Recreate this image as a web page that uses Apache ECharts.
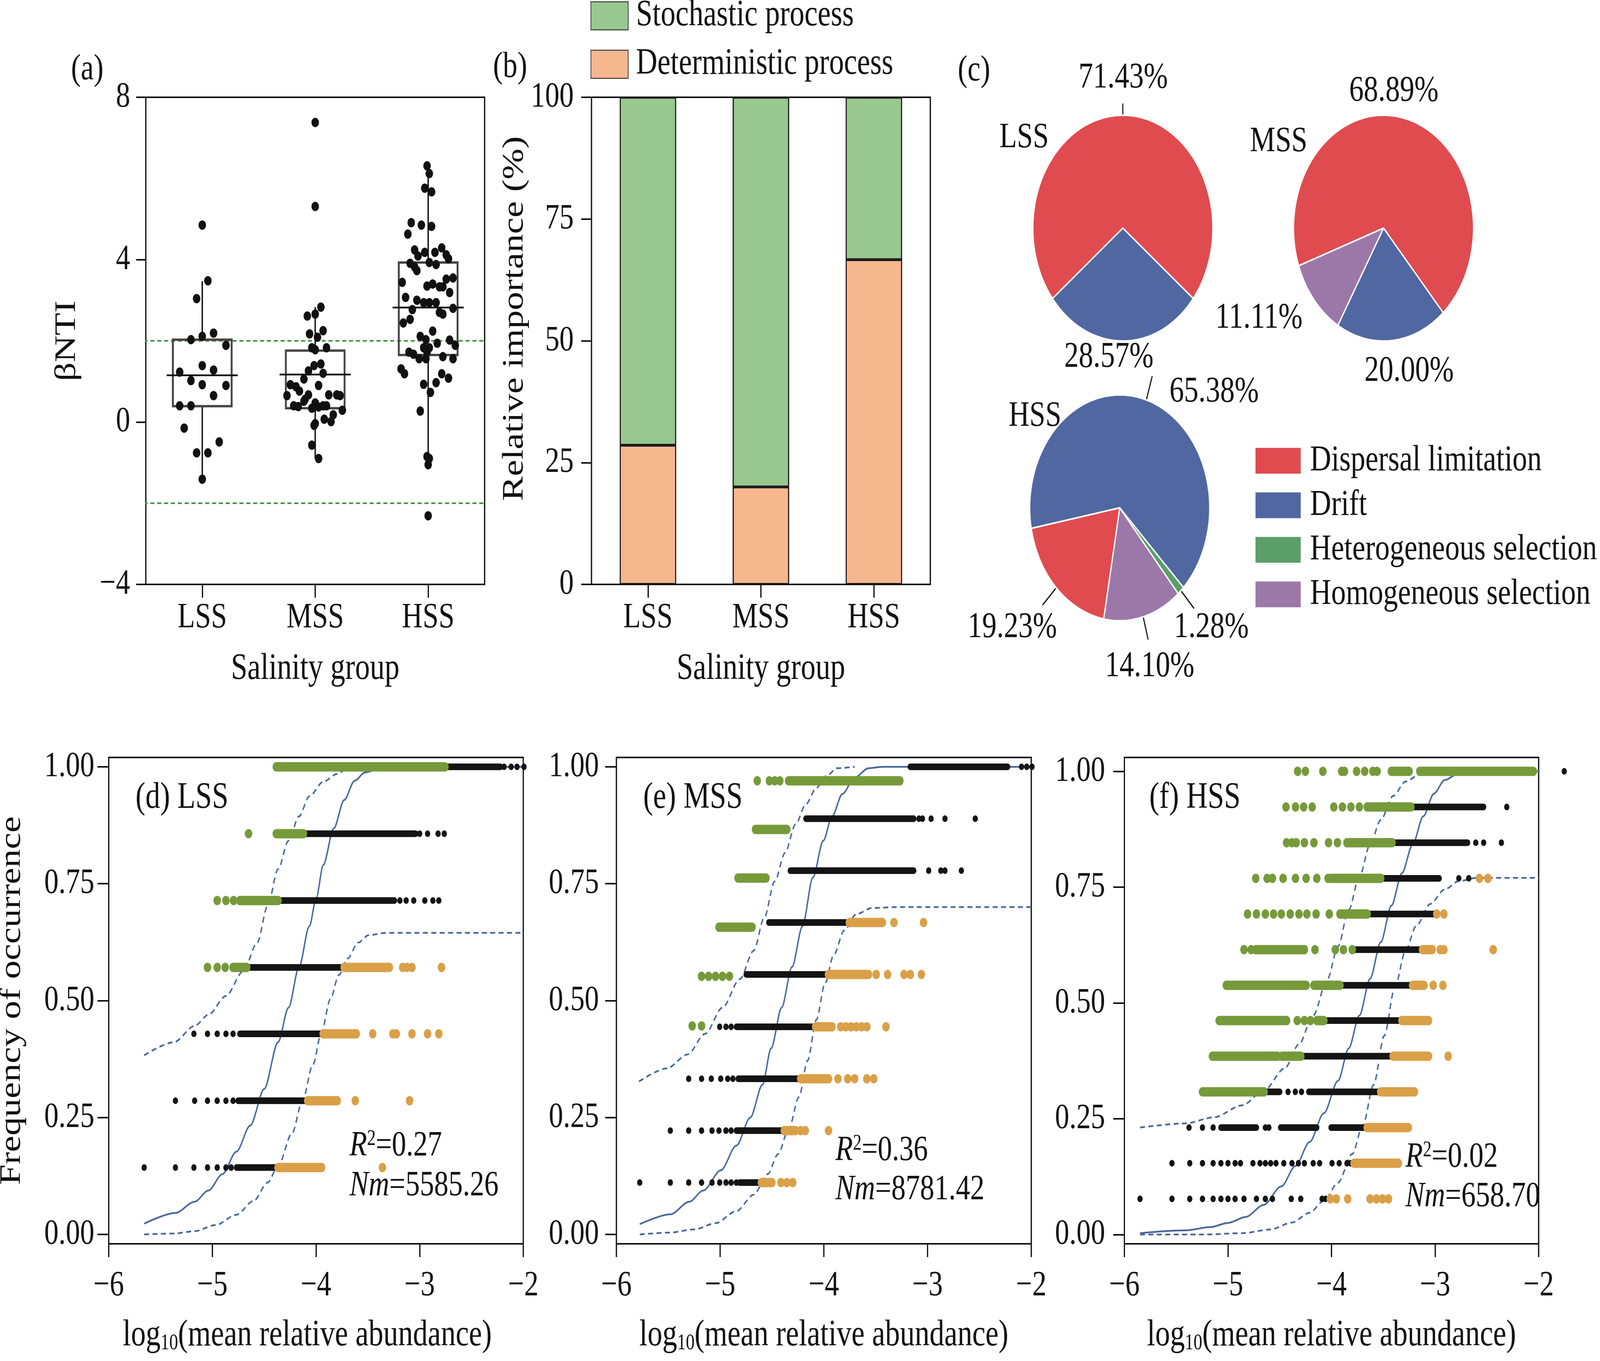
<!DOCTYPE html>
<html><head><meta charset="utf-8">
<script src="https://cdn.jsdelivr.net/npm/echarts@6.0.0/dist/echarts.min.js"></script>
<style>html,body{margin:0;padding:0;background:#fff;overflow:hidden}#wrap{width:100vw;height:100vh;overflow:hidden;position:relative}#c{width:5137px;height:3484px;transform-origin:0 0;position:absolute;left:0;top:0}</style>
</head><body><div id="wrap"><div id="c"></div></div>
<script>
// ---------------- data ----------------
const groups = ['LSS', 'MSS', 'HSS'];
// βNTI box statistics: [min whisker, Q1, median, Q3, max whisker]
const bntiStats = [[-1.41, 0.39, 1.15, 2.03, 3.47], [-0.90, 0.34, 1.17, 1.76, 2.83], [-1.06, 1.65, 2.82, 3.93, 6.31]];
const bntiThresholds = [2, -2];
// [jitter offset within group, βNTI]
const bntiLSS = [[0,4.85],[0.05,3.48],[-0.05,3.04],[0,2.11],[-0.10,2.03],[0.10,2.19],[0.21,1.89],[0,1.39],[-0.20,1.23],[0.10,1.28],[-0.10,1.02],[0,0.92],[0.21,0.90],[0.10,0.65],[-0.20,0.40],[-0.10,0.40],[-0.16,-0.15],[0.15,-0.49],[-0.05,-0.76],[0.05,-0.76],[0,-1.41]];
const bntiMSS = [[0,7.38],[0,5.31],[0.05,2.83],[0,2.66],[-0.07,2.61],[0.07,2.25],[-0.05,2.17],[0.02,2.09],[-0.03,1.83],[0.10,1.83],[0,1.78],[0.05,1.43],[-0.01,1.39],[-0.06,1.26],[0.07,1.20],[-0.10,1.06],[-0.22,0.92],[-0.17,0.87],[0.03,0.90],[-0.14,0.76],[-0.06,0.67],[-0.25,0.65],[0.12,0.67],[0.19,0.67],[0.22,0.65],[-0.19,0.40],[-0.15,0.38],[-0.10,0.51],[-0.03,0.34],[0.03,0.37],[0.07,0.40],[0.10,0.40],[0.24,0.29],[0.16,0.18],[0.08,0.07],[0.14,0.01],[0,-0.04],[-0.01,-0.08],[-0.03,-0.57],[0.03,-0.90],[0,0.47],[-0.09,0.56]];
const bntiHSS = [[-0.01,6.31],[0.01,6.12],[-0.03,5.76],[0.03,5.67],[-0.15,4.91],[-0.06,4.85],[0.03,4.82],[-0.18,4.63],[-0.12,4.24],[-0.03,4.18],[0.06,4.18],[0.12,4.29],[0.16,4.12],[-0.09,4.09],[0.18,4.02],[-0.16,3.91],[0.01,3.93],[0.07,3.88],[-0.12,3.82],[-0.10,3.73],[0.22,3.55],[-0.23,3.44],[0.16,3.52],[-0.01,3.35],[0.04,3.40],[0.10,3.33],[0.13,3.33],[0.19,3.19],[-0.20,3.07],[-0.10,3.00],[-0.04,2.94],[0.01,2.94],[0.07,2.94],[-0.14,2.77],[0.10,2.70],[0.13,2.66],[0.22,2.80],[-0.22,2.44],[-0.16,2.53],[0.04,2.24],[-0.07,2.11],[-0.02,2.03],[0.19,2.02],[0.08,1.94],[0.24,1.89],[-0.04,1.83],[0.01,1.83],[-0.17,1.72],[-0.13,1.67],[-0.01,1.72],[-0.08,1.56],[-0.02,1.56],[0.13,1.61],[0.22,1.56],[-0.24,1.31],[-0.21,1.19],[0.12,1.19],[0.18,1.08],[-0.04,0.93],[0.07,0.97],[0.02,0.73],[-0.07,0.27],[-0.01,-0.85],[0.01,-0.90],[0,-1.05],[0,-2.31]];

const deterministic = [28.57, 20.00, 66.67];
const stochastic = [71.43, 80.00, 33.33];

const pieNames = ['Dispersal limitation', 'Drift', 'Heterogeneous selection', 'Homogeneous selection'];
const pieLSS = [71.43, 28.57, 0, 0];
const pieMSS = [68.89, 20.00, 0, 11.11];
const pieHSS = [19.23, 65.38, 1.28, 14.10];

const occTicks = [0, 0.25, 0.5, 0.75, 1];
const fitR2 = [0.27, 0.36, 0.02];
const fitNm = [5585.26, 8781.42, 658.70];

// (d) LSS  segments: [x start, x end, frequency]; dots: [frequency, [x...]]
const lssAboveSeg = [[-4.383,-2.755,1.000],[-4.383,-4.121,0.857],[-4.735,-4.366,0.714],[-4.800,-4.668,0.571]];
const lssAboveDots = [[0.857,[-4.651]],[0.714,[-4.953,-4.869,-4.795]],[0.571,[-5.047,-4.953,-4.876]]];
const lssNeutralSeg = [[-2.755,-2.220,1.000],[-4.121,-3.040,0.857],[-4.366,-3.242,0.714],[-4.668,-3.728,0.571],[-4.735,-3.930,0.429],[-4.752,-4.097,0.286],[-4.768,-4.366,0.143]];
const lssNeutralDots = [[1.000,[-2.185,-2.117,-2.060,-1.993]],[0.857,[-3.000,-2.923,-2.822,-2.762]],[0.714,[-3.190,-3.130,-3.057,-2.950,-2.872,-2.815]],[0.429,[-5.178,-5.047,-4.953,-4.869,-4.800]],[0.286,[-5.356,-5.171,-5.047,-4.953,-4.869,-4.800]],[0.143,[-5.658,-5.356,-5.178,-5.047,-4.953,-4.869,-4.819]]];
const lssBelowSeg = [[-3.728,-3.292,0.571],[-3.930,-3.611,0.429],[-4.080,-3.795,0.286],[-4.366,-3.946,0.143]];
const lssBelowDots = [[0.571,[-3.164,-3.124,-3.074,-2.789]],[0.429,[-3.453,-3.258,-3.225,-3.074,-2.923,-2.815]],[0.286,[-3.621,-3.097]],[0.143,[-3.359]]];
const lssFit = [[-5.658,0.023],[-5.356,0.046],[-5.171,0.070],[-5.037,0.094],[-4.903,0.129],[-4.768,0.177],[-4.634,0.233],[-4.500,0.311],[-4.366,0.411],[-4.265,0.485],[-4.164,0.572],[-4.064,0.659],[-3.997,0.720],[-3.930,0.790],[-3.829,0.868],[-3.728,0.929],[-3.628,0.970],[-3.527,0.988],[-3.359,0.998],[-2.000,1.000]];
const lssUpper = [[-5.658,0.383],[-5.372,0.411],[-5.171,0.446],[-5.037,0.470],[-4.869,0.510],[-4.701,0.563],[-4.567,0.624],[-4.466,0.703],[-4.366,0.781],[-4.265,0.842],[-4.164,0.894],[-4.064,0.937],[-3.930,0.968],[-3.795,0.985],[-3.695,0.997],[-3.500,1.000]];
const lssLower = [[-5.658,0.000],[-5.372,0.002],[-5.171,0.007],[-4.970,0.020],[-4.768,0.042],[-4.601,0.072],[-4.466,0.111],[-4.366,0.146],[-4.232,0.216],[-4.131,0.285],[-4.030,0.363],[-3.946,0.433],[-3.862,0.503],[-3.779,0.555],[-3.695,0.590],[-3.594,0.624],[-3.493,0.640],[-3.326,0.645],[-2.000,0.645]];

// (e) MSS
const mssAboveSeg = [[-4.340,-3.267,0.970],[-4.659,-4.357,0.866],[-4.827,-4.558,0.762],[-5.011,-4.692,0.657]];
const mssAboveDots = [[0.970,[-4.642,-4.525,-4.474,-4.424]],[0.552,[-5.179,-5.111,-5.044,-4.977,-4.910]],[0.446,[-5.269,-5.179]]];
const mssNeutralSeg = [[-3.167,-2.228,1.000],[-4.173,-3.133,0.889],[-4.324,-3.133,0.778],[-4.531,-3.754,0.667],[-4.749,-3.955,0.556],[-4.843,-4.079,0.444],[-4.826,-4.240,0.333],[-4.843,-4.381,0.222],[-4.810,-4.602,0.111]];
const mssNeutralDots = [[1.000,[-2.094,-2.044,-1.993]],[0.889,[-3.083,-3.049,-2.966,-2.832,-2.540]],[0.778,[-2.989,-2.872,-2.832,-2.674]],[0.444,[-5.004,-4.944,-4.894]],[0.333,[-5.303,-5.179,-5.085,-4.994,-4.927,-4.877]],[0.222,[-5.480,-5.303,-5.179,-5.078,-5.011,-4.944,-4.894]],[0.111,[-5.775,-5.480,-5.303,-5.179,-5.078,-5.004,-4.944,-4.894,-4.843]]];
const mssBelowSeg = [[-3.754,-3.435,0.667],[-3.955,-3.569,0.556],[-4.079,-3.921,0.444],[-4.223,-3.955,0.333],[-4.381,-4.273,0.222],[-4.602,-4.501,0.111]];
const mssBelowDots = [[0.667,[-3.324,-3.039]],[0.556,[-3.495,-3.385,-3.227,-3.167,-3.060]],[0.444,[-3.837,-3.787,-3.737,-3.686,-3.636,-3.586,-3.401]],[0.333,[-3.864,-3.770,-3.703,-3.586,-3.519]],[0.222,[-4.223,-4.179,-3.955]],[0.111,[-4.414,-4.357,-4.300]]];
const mssFit = [[-5.775,0.022],[-5.480,0.043],[-5.296,0.070],[-5.162,0.094],[-4.994,0.137],[-4.843,0.190],[-4.709,0.250],[-4.592,0.320],[-4.508,0.398],[-4.407,0.485],[-4.307,0.572],[-4.206,0.659],[-4.106,0.763],[-4.005,0.842],[-3.921,0.894],[-3.821,0.942],[-3.703,0.977],[-3.569,0.997],[-3.435,1.000],[-2.000,1.000]];
const mssUpper = [[-5.782,0.327],[-5.514,0.355],[-5.313,0.385],[-5.145,0.429],[-4.977,0.485],[-4.810,0.546],[-4.676,0.607],[-4.575,0.677],[-4.474,0.755],[-4.374,0.816],[-4.273,0.877],[-4.173,0.920],[-4.072,0.955],[-3.972,0.981],[-3.871,0.997],[-3.703,1.000]];
const mssLower = [[-5.775,0.000],[-5.480,0.004],[-5.246,0.011],[-5.044,0.024],[-4.843,0.050],[-4.676,0.085],[-4.541,0.129],[-4.441,0.172],[-4.340,0.224],[-4.240,0.294],[-4.156,0.372],[-4.072,0.459],[-3.988,0.537],[-3.904,0.598],[-3.804,0.650],[-3.687,0.685],[-3.536,0.698],[-3.301,0.700],[-2.000,0.700]];

// (f) HSS
const hssAboveSeg = [[-3.422,-3.251,1.000],[-3.148,-2.051,1.000],[-3.656,-3.234,0.923],[-3.851,-3.416,0.846],[-4.005,-3.525,0.769],[-3.919,-3.656,0.692],[-4.732,-4.262,0.615],[-5.016,-4.245,0.538],[-4.170,-3.919,0.538],[-5.085,-4.434,0.462],[-4.142,-4.074,0.462],[-5.150,-4.519,0.385],[-4.480,-4.297,0.385],[-5.246,-4.650,0.308]];
const hssAboveDots = [[1.000,[-4.327,-4.252,-4.084,-3.902,-3.875,-3.758,-3.680,-3.601,-3.560]],[0.923,[-4.440,-4.348,-4.269,-4.187,-3.978,-3.895,-3.813,-3.731]],[0.846,[-4.434,-4.382,-4.341,-4.262,-4.170,-4.029,-3.943]],[0.769,[-4.732,-4.622,-4.571,-4.468,-4.348,-4.245,-4.142,-4.033]],[0.692,[-4.811,-4.725,-4.639,-4.560,-4.485,-4.399,-4.314,-4.238,-4.149,-4.022]],[0.615,[-4.845,-4.776,-4.160,-3.964,-3.885,-3.800]],[0.462,[-4.331,-4.262,-4.204]]];
const hssNeutralSeg = [[-3.234,-2.531,0.923],[-3.416,-2.686,0.846],[-3.525,-2.960,0.769],[-3.656,-3.011,0.692],[-3.782,-3.121,0.615],[-3.919,-3.217,0.538],[-4.074,-3.320,0.462],[-4.297,-3.405,0.385],[-4.650,-4.500,0.308],[-4.220,-3.525,0.308],[-5.068,-4.725,0.231],[-4.492,-4.142,0.231],[-4.005,-3.656,0.231]];
const hssNeutralDots = [[1.000,[-1.753]],[0.923,[-2.308]],[0.846,[-2.607,-2.531,-2.360]],[0.769,[-2.771,-2.675]],[0.308,[-4.420,-4.350,-4.290]],[0.231,[-5.376,-5.246,-5.143,-4.639,-4.605]],[0.154,[-5.541,-5.369,-5.246,-5.143,-5.068,-5.000,-4.931,-4.879,-4.759,-4.691,-4.639,-4.588,-4.536,-4.461,-4.382,-4.320,-4.262,-4.177,-4.115,-3.995,-3.926,-3.851,-3.817]],[0.077,[-5.849,-5.541,-5.369,-5.246,-5.143,-5.068,-5.000,-4.931,-4.845,-4.725,-4.639,-4.571,-4.389,-4.297,-4.091,-4.057]]];
const hssBelowSeg = [[-3.121,-3.028,0.615],[-3.217,-3.107,0.538],[-3.320,-3.063,0.462],[-3.405,-3.063,0.385],[-3.525,-3.200,0.308],[-3.656,-3.258,0.231],[-3.782,-3.354,0.154]];
const hssBelowDots = [[0.769,[-2.572,-2.490]],[0.692,[-2.984,-2.915]],[0.615,[-2.950,-2.915,-2.439]],[0.538,[-3.018,-2.925]],[0.385,[-2.874]],[0.077,[-4.012,-3.954,-3.844,-3.628,-3.566,-3.508,-3.450]]];
const hssFit = [[-5.849,0.003],[-5.410,0.009],[-5.171,0.016],[-5.000,0.025],[-4.828,0.038],[-4.656,0.064],[-4.485,0.104],[-4.348,0.148],[-4.211,0.200],[-4.074,0.262],[-3.937,0.332],[-3.834,0.402],[-3.731,0.473],[-3.628,0.552],[-3.525,0.631],[-3.422,0.710],[-3.320,0.780],[-3.217,0.842],[-3.114,0.903],[-3.011,0.952],[-2.908,0.981],[-2.771,0.996],[-2.668,1.000],[-1.753,1.000]];
const hssUpper = [[-5.849,0.231],[-5.410,0.240],[-5.136,0.253],[-4.862,0.279],[-4.656,0.310],[-4.451,0.359],[-4.314,0.411],[-4.177,0.473],[-4.039,0.552],[-3.937,0.622],[-3.834,0.701],[-3.731,0.772],[-3.628,0.842],[-3.525,0.895],[-3.405,0.947],[-3.285,0.978],[-3.148,0.993],[-3.011,1.000]];
const hssLower = [[-5.849,0.000],[-5.239,0.000],[-4.862,0.003],[-4.588,0.011],[-4.382,0.026],[-4.211,0.047],[-4.074,0.073],[-3.937,0.112],[-3.800,0.174],[-3.697,0.236],[-3.594,0.323],[-3.491,0.429],[-3.388,0.534],[-3.285,0.613],[-3.183,0.666],[-3.045,0.714],[-2.908,0.745],[-2.771,0.763],[-2.600,0.770],[-1.753,0.770]];

// ---------------- styles ----------------
const FONT = '"Liberation Serif", "Times New Roman", serif';
const INK = '#111111';
const TICK = 92, TITLE = 95;
const BOXC = '#4a4242';
const C_GREENBAR = '#98c890', C_PEACH = '#f5b78e';
const pieColors = ['#e04b50', '#5067a1', '#5a9e69', '#9c78a9'];
const C_ABOVE = '#769a3a', C_BELOW = '#daa048', C_NEUTRAL = '#141414', C_FIT = '#4a689a';
const minus = v => (v < 0 ? '\u2212' + Math.abs(v) : String(v));

function ax(extra) {
  const base = {
    axisLine: { show: true, onZero: false, lineStyle: { color: INK, width: 4 } },
    axisTick: { show: true, inside: false, length: 34, lineStyle: { color: INK, width: 4 } },
    axisLabel: { color: INK, fontFamily: FONT, fontSize: TICK, lineHeight: TICK },
    splitLine: { show: false },
    nameTextStyle: { color: INK, fontFamily: FONT, fontSize: TITLE, lineHeight: TITLE }
  };
  for (const k in extra) {
    if (base[k] && typeof extra[k] === 'object' && !Array.isArray(extra[k])) base[k] = Object.assign({}, base[k], extra[k]);
    else base[k] = extra[k];
  }
  return base;
}
const gridBox = { show: true, borderColor: INK, borderWidth: 4, backgroundColor: 'transparent', containLabel: false, outerBoundsMode: 'none' };

const grids = [
  Object.assign({ left: 468, top: 249, width: 1088, height: 1247 }, gridBox),
  Object.assign({ left: 1899, top: 249, width: 1088, height: 1247 }, gridBox),
  Object.assign({ left: 349, top: 1939, width: 1331, height: 1245 }, gridBox),
  Object.assign({ left: 1979, top: 1939, width: 1332, height: 1245 }, gridBox),
  Object.assign({ left: 3610, top: 1939, width: 1330, height: 1245 }, gridBox)
];

const xName = 'log{sub|10}(mean relative abundance)';
const subRich = { sub: { fontFamily: FONT, fontSize: 56, color: INK, verticalAlign: 'bottom', lineHeight: 56 } };

const xAxes = [
  ax({ gridIndex: 0, type: 'category', data: groups, boundaryGap: true, axisTick: { alignWithLabel: true },
       axisLabel: { margin: 40 }, name: 'Salinity group', nameLocation: 'middle', nameGap: 170 }),
  { gridIndex: 0, type: 'value', min: -0.5, max: 2.5, show: false },
  ax({ gridIndex: 1, type: 'category', data: groups, boundaryGap: true, axisTick: { alignWithLabel: true },
       axisLabel: { margin: 40 }, name: 'Salinity group', nameLocation: 'middle', nameGap: 170 }),
  ax({ gridIndex: 2, type: 'value', min: -6, max: -2, interval: 1, axisLabel: { margin: 62, formatter: minus },
       name: xName, nameLocation: 'middle', nameGap: 188, nameTextStyle: { rich: subRich, padding: [0, 56, 0, 0] } }),
  ax({ gridIndex: 3, type: 'value', min: -6, max: -2, interval: 1, axisLabel: { margin: 62, formatter: minus },
       name: xName, nameLocation: 'middle', nameGap: 188, nameTextStyle: { rich: subRich } }),
  ax({ gridIndex: 4, type: 'value', min: -6, max: -2, interval: 1, axisLabel: { margin: 62, formatter: minus },
       name: xName, nameLocation: 'middle', nameGap: 188, nameTextStyle: { rich: subRich } })
];
const occLabel = v => Number(v).toFixed(2);
const yAxes = [
  ax({ gridIndex: 0, type: 'value', min: -4, max: 8, interval: 4, axisTick: { length: 31 }, axisLabel: { margin: 50, formatter: minus },
       name: '\u03b2NTI', nameLocation: 'middle', nameGap: 204 }),
  ax({ gridIndex: 1, type: 'value', min: 0, max: 100, interval: 25, axisTick: { length: 33 }, axisLabel: { margin: 57 },
       name: 'Relative importance (%)', nameLocation: 'middle', nameGap: 197, nameTextStyle: { padding: [0, 0, 0, 114] } }),
  ax({ gridIndex: 2, type: 'value', min: -0.02, max: 1.02, axisTick: { length: 36, customValues: occTicks },
       axisLabel: { margin: 46, formatter: occLabel, customValues: occTicks },
       name: 'Frequency of occurrence', nameLocation: 'middle', nameGap: 262 }),
  ax({ gridIndex: 3, type: 'value', min: -0.02, max: 1.02, axisTick: { length: 36, customValues: occTicks },
       axisLabel: { margin: 56, formatter: occLabel, customValues: occTicks } }),
  ax({ gridIndex: 4, type: 'value', min: -0.02, max: 1.03, axisTick: { length: 36, customValues: occTicks },
       axisLabel: { margin: 62, formatter: occLabel, customValues: occTicks } })
];

const series = [];

// ---- (a) βNTI ----
bntiThresholds.forEach(t => series.push({
  type: 'line', xAxisIndex: 1, yAxisIndex: 0, data: [[-0.52, t], [2.5, t]], symbol: 'none', silent: true, z: 1, clip: false,
  lineStyle: { color: '#3c8c3c', width: 4, type: [13, 9] }
}));
series.push({
  type: 'custom', xAxisIndex: 1, yAxisIndex: 0, silent: true, z: 2,
  data: bntiStats.map((s, i) => [i].concat(s)),
  encode: { x: 0, y: [1, 2, 3, 4, 5] },
  renderItem: function (params, api) {
    const i = api.value(0);
    const v = [1, 2, 3, 4, 5].map(k => api.value(k));
    const unit = api.size([1, 0])[0];
    const bw = unit * 0.52, mw = unit * 0.63;
    const cx = api.coord([i, 0])[0];
    const y = val => api.coord([i, val])[1];
    return { type: 'group', children: [
      { type: 'line', shape: { x1: cx, y1: y(v[4]), x2: cx, y2: y(v[3]) }, style: { stroke: INK, lineWidth: 4.5 } },
      { type: 'line', shape: { x1: cx, y1: y(v[1]), x2: cx, y2: y(v[0]) }, style: { stroke: INK, lineWidth: 4.5 } },
      { type: 'rect', shape: { x: cx - bw / 2, y: y(v[3]), width: bw, height: y(v[1]) - y(v[3]) }, style: { fill: 'transparent', stroke: BOXC, lineWidth: 6 } },
      { type: 'line', shape: { x1: cx - mw / 2, y1: y(v[2]), x2: cx + mw / 2, y2: y(v[2]) }, style: { stroke: INK, lineWidth: 4.5 } }
    ] };
  }
});
[bntiLSS, bntiMSS, bntiHSS].forEach((pts, gi) => series.push({
  type: 'scatter', xAxisIndex: 1, yAxisIndex: 0, silent: true, z: 3, symbolSize: 24,
  itemStyle: { color: INK, opacity: 1 }, data: pts.map(p => [gi + p[0], p[1]])
}));

// ---- (b) bars ----
const barStyle = c => ({ color: c, borderColor: INK, borderWidth: 3.5 });
series.push({ type: 'bar', name: 'Deterministic process', xAxisIndex: 2, yAxisIndex: 1, stack: 'p', barWidth: '50%', silent: true,
  itemStyle: barStyle(C_PEACH), data: deterministic });
series.push({ type: 'bar', name: 'Stochastic process', xAxisIndex: 2, yAxisIndex: 1, stack: 'p', barWidth: '50%', silent: true,
  itemStyle: barStyle(C_GREENBAR), data: stochastic });

// ---- (c) pies ----
function pieSeries(values, order, center, startAngle, leaderLens, labelPos) {
  return {
    type: 'pie', center: center, radius: 289, startAngle: startAngle, clockwise: true, avoidLabelOverlap: false,
    minShowLabelAngle: 0, silent: true, emphasis: { disabled: true, scale: false },
    itemStyle: { borderColor: '#ffffff', borderWidth: 4 },
    label: { show: true, position: 'outside', color: INK, fontFamily: FONT, fontSize: 93, lineHeight: 93,
             formatter: p => Number(p.value).toFixed(2) + '%' },
    labelLine: { show: true, length: 30, length2: 0, smooth: false, lineStyle: { color: INK, width: 3.5 } },
    data: order.map((k, i) => ({
      name: pieNames[k], value: values[k], itemStyle: { color: pieColors[k] },
      labelLine: { show: leaderLens[i] > 0, length: Math.max(leaderLens[i], 1), length2: 0 }
    })),
    labelLayout: function (params) {
      const p = labelPos[params.dataIndex];
      const out = { x: p[0], y: p[1], align: 'center', verticalAlign: 'middle' };
      const pts = params.labelLinePoints;
      if (pts && leaderLens[params.dataIndex] > 0) out.labelLinePoints = [pts[0], pts[1], pts[1]];
      return out;
    }
  };
}
series.push(pieSeries(pieLSS, [0, 1], [3605, 584], 218.6, [30, 0], [[3606, 200], [3560, 915]]));
series.push(pieSeries(pieMSS, [0, 1, 3], [4442, 584], 199.5, [0, 0, 0], [[4475, 234], [4524, 951], [4042, 815]]));
series.push(pieSeries(pieHSS, [1, 2, 3, 0], [3595, 1300], 190.5, [64, 62, 60, 62], [[3898, 1004], [3889, 1607], [3691, 1707], [3250, 1607]]));

// ---- (d)-(f) neutral model panels ----
const flatDots = rows => rows.flatMap(r => r[1].map(x => [x, r[0]]));
function occPanel(ai, d) {
  const lineBase = { type: 'line', xAxisIndex: 3 + ai, yAxisIndex: 2 + ai, symbol: 'none', smooth: 0.3, smoothMonotone: 'x', clip: false, silent: true, z: 2 };
  const seg = (data, color, w, z) => ({
    type: 'custom', xAxisIndex: 3 + ai, yAxisIndex: 2 + ai, data: data, clip: false, silent: true, z: z,
    encode: { x: [0, 1], y: 2 },
    renderItem: function (params, api) {
      const a = api.coord([api.value(0), api.value(2)]);
      const b = api.coord([api.value(1), api.value(2)]);
      return { type: 'line', shape: { x1: a[0], y1: a[1], x2: b[0], y2: b[1] }, style: { stroke: color, lineWidth: w, lineCap: 'round' } };
    }
  });
  const dots = (rows, color, size, z) => ({
    type: 'scatter', xAxisIndex: 3 + ai, yAxisIndex: 2 + ai, data: flatDots(rows), symbol: 'circle', symbolSize: size,
    itemStyle: { color: color, opacity: 1 }, clip: false, silent: true, z: z
  });
  return [
    Object.assign({}, lineBase, { data: d.fit, lineStyle: { color: C_FIT, width: 4.5, type: 'solid' } }),
    Object.assign({}, lineBase, { data: d.upper, lineStyle: { color: C_FIT, width: 4.5, type: [16, 11] } }),
    Object.assign({}, lineBase, { data: d.lower, lineStyle: { color: C_FIT, width: 4.5, type: [16, 11] } }),
    seg(d.nSeg, C_NEUTRAL, 17, 3), dots(d.nDots, C_NEUTRAL, 17, 3),
    seg(d.aSeg, C_ABOVE, 24, 4), dots(d.aDots, C_ABOVE, 24, 4),
    seg(d.bSeg, C_BELOW, 24, 4), dots(d.bDots, C_BELOW, 24, 4)
  ];
}
series.push(...occPanel(0, { fit: lssFit, upper: lssUpper, lower: lssLower, nSeg: lssNeutralSeg, nDots: lssNeutralDots, aSeg: lssAboveSeg, aDots: lssAboveDots, bSeg: lssBelowSeg, bDots: lssBelowDots }));
series.push(...occPanel(1, { fit: mssFit, upper: mssUpper, lower: mssLower, nSeg: mssNeutralSeg, nDots: mssNeutralDots, aSeg: mssAboveSeg, aDots: mssAboveDots, bSeg: mssBelowSeg, bDots: mssBelowDots }));
series.push(...occPanel(2, { fit: hssFit, upper: hssUpper, lower: hssLower, nSeg: hssNeutralSeg, nDots: hssNeutralDots, aSeg: hssAboveSeg, aDots: hssAboveDots, bSeg: hssBelowSeg, bDots: hssBelowDots }));

// ---- texts ----
function txt(x, y, text, size, align, rich) {
  const style = { text: text, fontFamily: FONT, fontSize: size, fill: INK, align: align || 'left', verticalAlign: 'middle' };
  if (rich) style.rich = rich;
  return { type: 'text', x: x, y: y, silent: true, z: 10, style: style };
}
const statRich = {
  i: { fontFamily: FONT, fontSize: 92, fontStyle: 'italic', fill: INK },
  s: { fontFamily: FONT, fontSize: 56, fill: INK, verticalAlign: 'top', lineHeight: 56 }
};
const statPos = [[1122, 2934, 3036], [2682, 2946, 3046], [4512, 2963, 3064]];
const graphics = [
  txt(228, 178, '(a)', 94), txt(1583, 172, '(b)', 94), txt(3075, 181, '(c)', 94),
  txt(3288, 353, groups[0], 92, 'center'), txt(4105, 363, groups[1], 92, 'center'), txt(3323, 1066, groups[2], 92, 'center'),
  txt(435, 2043, '(d) ' + groups[0], 95), txt(2065, 2043, '(e) ' + groups[1], 95), txt(3690, 2043, '(f) ' + groups[2], 95)
];
statPos.forEach((p, i) => {
  graphics.push(txt(p[0], p[1], '{i|R}{s|2}=' + fitR2[i].toFixed(2), 92, 'left', statRich));
  graphics.push(txt(p[0], p[2], '{i|Nm}=' + fitNm[i].toFixed(2), 92, 'left', statRich));
});

const option = {
  animation: false,
  backgroundColor: '#ffffff',
  textStyle: { fontFamily: FONT },
  grid: grids,
  xAxis: xAxes,
  yAxis: yAxes,
  legend: [
    { data: ['Stochastic process', 'Deterministic process'], orient: 'vertical', left: 1891, top: -12,
      itemWidth: 120, itemHeight: 72, itemGap: 29, icon: 'rect', selectedMode: false,
      textStyle: { color: INK, fontFamily: FONT, fontSize: 95, lineHeight: 95, padding: [0, 0, 0, 20] } },
    { data: pieNames, orient: 'vertical', left: 4026, top: 1127,
      itemWidth: 145, itemHeight: 66, itemGap: 19, icon: 'rect', selectedMode: false,
      itemStyle: { borderWidth: 0 },
      textStyle: { color: INK, fontFamily: FONT, fontSize: 94, lineHeight: 95, padding: [0, 0, 0, 25] } }
  ],
  graphic: graphics,
  series: series
};

// the browser caps the viewport (e.g. 4096 px wide); map the 5137×3484 layout onto whatever viewport the page gets
const el = document.getElementById('c');
const wrap = document.getElementById('wrap');
const sx = (wrap.clientWidth || window.innerWidth) / 5137 || 1;
const sy = (wrap.clientHeight || window.innerHeight) / 3484 || 1;
el.style.transform = 'scale(' + sx + ',' + sy + ')';
const chart = echarts.init(el, null, { width: 5137, height: 3484 });
chart.setOption(option);
</script></body></html>
